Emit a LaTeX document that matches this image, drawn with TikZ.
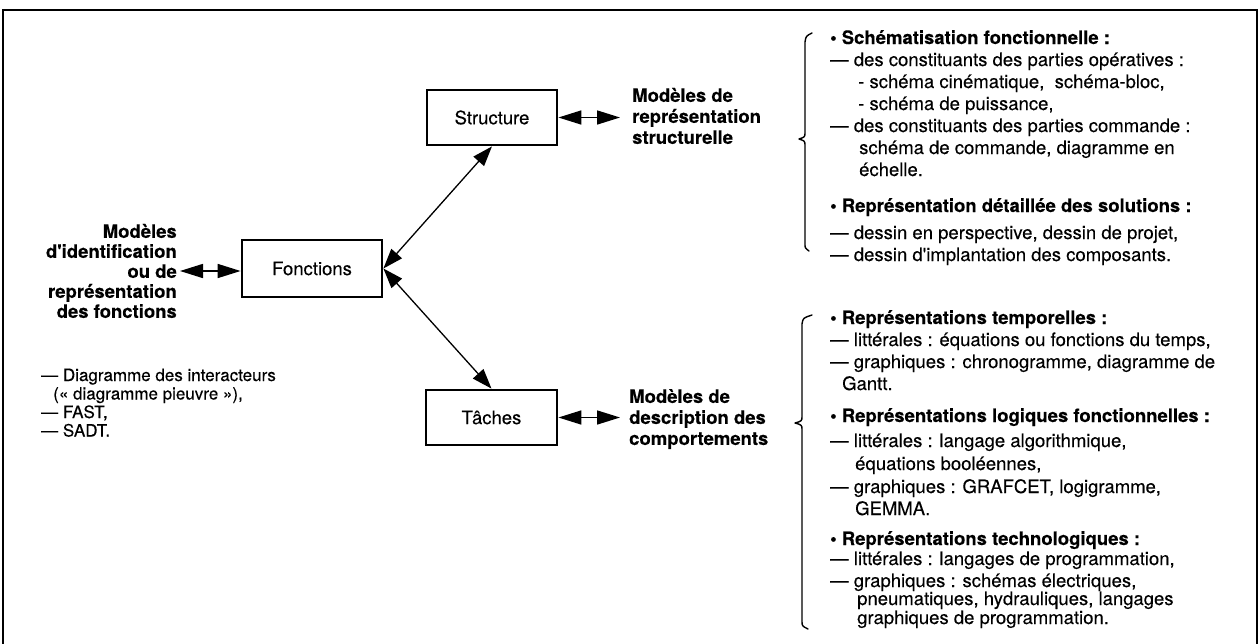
\documentclass[tikz,border=0pt]{standalone}
\usepackage{fontspec}
\setmainfont{TeX Gyre Heros}[UprightFeatures={FakeBold=0.25},BoldFeatures={FakeBold=0.25}]
\usetikzlibrary{arrows.meta}
\tikzset{
 boxnode/.style={draw, line width=2.8pt, inner sep=0pt, font=\fontsize{18.5}{22}\selectfont},
 hd/.style={font=\fontsize{18.5}{21}\selectfont\bfseries, inner sep=0pt},
 txt/.style={font=\fontsize{18.5}{22}\selectfont, inner sep=0pt},
 dblarrow/.style={{Triangle[length=23pt,width=14pt]}-{Triangle[length=23pt,width=14pt]}, line width=1.6pt},
 diagarrow/.style={{Triangle[length=20pt,width=14pt]}-{Triangle[length=20pt,width=14pt]}, line width=1.3pt},
 bracepath/.style={line width=1.4pt, line cap=round, line join=round},
 framepath/.style={line width=2.8pt}
}
\begin{document}
\begin{tikzpicture}[x=1pt,y=-1pt]
\useasboundingbox (0,0) rectangle (1259,643);
\draw[framepath] (3,645) -- (3,10) -- (1257,10) -- (1257,645);

\node[boxnode, minimum width=130pt, minimum height=55pt] (S) at (492,117.5) {Structure};
\node[boxnode, minimum width=140pt, minimum height=57pt] (F) at (312,268.5) {Fonctions};
\node[boxnode, minimum width=131pt, minimum height=55pt] (T) at (491.5,417.5) {Tâches};

\node[hd, font=\fontsize{18.5}{20}\selectfont\bfseries, align=right, anchor=east] (idl) at (177,271) {Modèles\\d\textquotesingle identification\\ou de\\représentation\\des fonctions};
\node[hd, align=left, anchor=west] (sl) at (632,116) {Modèles de\\représentation\\structurelle};
\node[hd, align=left, anchor=west] (tl) at (629,419) {Modèles de\\description des\\comportements};

\draw[dblarrow, shorten >=12pt] (S.east) -- (S.east -| sl.west);
\draw[dblarrow, shorten >=3pt] (F.west |- idl.east) -- (idl.east);
\draw[dblarrow, shorten >=9pt] (T.east) -- (T.east -| tl.west);
\draw[diagarrow] (F.east) -- (S.south);
\draw[diagarrow] (F.east) -- (T.north);

\node[txt, anchor=base west] (r1) at (830,44) {\begin{tabular}[t]{@{}l@{}}
\textbf{\textbullet\ Schématisation fonctionnelle :}\\
\textemdash\ des constituants des parties opératives :\\
\hspace*{28pt}- schéma cinématique,\ \ schéma-bloc,\\
\hspace*{28pt}- schéma de puissance,\\
\textemdash\ des constituants des parties commande :\\
\hspace*{29pt}schéma de commande, diagramme en\\
\hspace*{29pt}échelle.\\[14pt]
\textbf{\textbullet\ Représentation détaillée des solutions :}\\[5pt]
\textemdash\ dessin en perspective, dessin de projet,\\
\textemdash\ dessin d\textquotesingle implantation des composants.
\end{tabular}};

\node[txt, anchor=base west] (r2) at (830,324) {\begin{tabular}[t]{@{}l@{}}
\textbf{\textbullet\ Représentations temporelles :}\\
\textemdash\ littérales : équations ou fonctions du temps,\\
\textemdash\ graphiques : chronogramme, diagramme de\\
\hspace*{12pt}Gantt.\\[10pt]
\textbf{\textbullet\ Représentations logiques fonctionnelles :}\\[3pt]
\textemdash\ littérales : langage algorithmique,\\[1pt]
\hspace*{25pt}équations booléennes,\\[1pt]
\textemdash\ graphiques : GRAFCET, logigramme,\\
\hspace*{25pt}GEMMA.\\[8pt]
\textbf{\textbullet\ Représentations technologiques :}\\[-2pt]
\textemdash\ littérales : langages de programmation,\\
\textemdash\ graphiques : schémas électriques,\\[-4pt]
\hspace*{27pt}pneumatiques, hydrauliques, langages\\[-3pt]
\hspace*{27pt}graphiques de programmation.
\end{tabular}};

\node[font=\fontsize{17}{18.5}\selectfont, inner sep=0pt, anchor=base west] (ll) at (41,381) {\begin{tabular}[t]{@{}l@{}}
\textemdash\ Diagramme des interacteurs\\
\hspace*{12pt}(« diagramme pieuvre »),\\
\textemdash\ FAST,\\
\textemdash\ SADT.
\end{tabular}};

\draw[bracepath] (812,33) .. controls (806,36) .. (805,42) -- (805,132) .. controls (805,137) .. (799,139) .. controls (805,141) .. (805,146) -- (805,244) .. controls (805,248) .. (809,251);
\draw[bracepath] (812,315) .. controls (803,318) .. (802,324) -- (802,416) .. controls (802,421) .. (795,423) .. controls (802,425) .. (802,430) -- (802,621) .. controls (802,626) .. (808,629);
\end{tikzpicture}
\end{document}
